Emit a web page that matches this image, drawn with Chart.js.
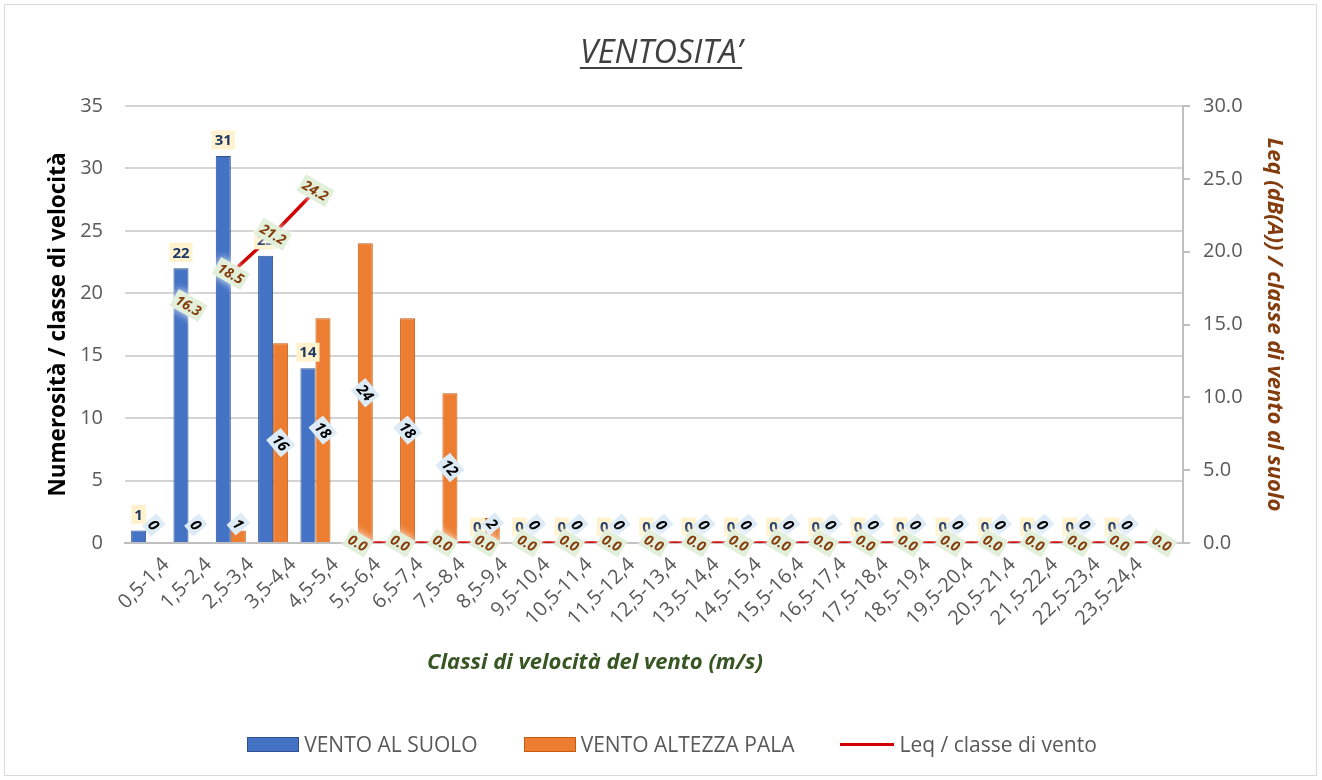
<!DOCTYPE html>
<html lang="it">
<head>
<meta charset="utf-8">
<title>VENTOSITA'</title>
<script src="https://cdn.jsdelivr.net/npm/chart.js@4.4.1/dist/chart.umd.min.js"></script>
<style>
  body { margin: 0; background: #fff; font-family: "Open Sans", sans-serif; }
  #wrap { position: relative; width: 1322px; height: 780px; }
  #frame { position: absolute; left: 4px; top: 4px; width: 1311px; height: 770px; border: 1px solid #d9d9d9; }
  #title {
    position: absolute; left: 0; top: 28px; width: 1322px; text-align: center;
    font-style: italic; font-size: 32.5px; color: #404040; text-decoration: underline;
    text-decoration-thickness: 2px; text-underline-offset: 4px;
  }
  #xtitle {
    position: absolute; left: 395px; top: 645px; width: 400px; text-align: center;
    font-style: italic; font-weight: bold; font-size: 22px; color: #375623;
  }
  #legend {
    position: absolute; left: 22px; top: 730px; width: 1300px;
    display: flex; justify-content: center; gap: 46px;
    font-size: 21px; color: #595959;
  }
  .item { display: flex; align-items: center; gap: 5px; }
  .box { width: 50px; height: 13px; border: 1px solid; }
  .line { width: 54px; height: 3px; }
</style>
</head>
<body>
<div id="wrap">
  <div id="frame"></div>
  <canvas id="chart" width="1322" height="780"></canvas>
  <div id="title">VENTOSITA’</div>
  <div id="xtitle">Classi di velocità del vento (m/s)</div>
  <div id="legend"></div>
</div>
<script>
// 1. Data
const classi = ['0,5-1,4', '1,5-2,4', '2,5-3,4', '3,5-4,4', '4,5-5,4', '5,5-6,4', '6,5-7,4', '7,5-8,4',
  '8,5-9,4', '9,5-10,4', '10,5-11,4', '11,5-12,4', '12,5-13,4', '13,5-14,4', '14,5-15,4', '15,5-16,4',
  '16,5-17,4', '17,5-18,4', '18,5-19,4', '19,5-20,4', '20,5-21,4', '21,5-22,4', '22,5-23,4', '23,5-24,4', ''];

const ventoSuolo = [1, 22, 31, 23, 14, null, null, null, 0, 0, 0, 0, 0, 0, 0, 0, 0, 0, 0, 0, 0, 0, 0, 0, null];
const ventoPala = [0, 0, 1, 16, 18, 24, 18, 12, 2, 0, 0, 0, 0, 0, 0, 0, 0, 0, 0, 0, 0, 0, 0, 0, null];
const leq = [null, 16.3, 18.5, 21.2, 24.2, 0, 0, 0, 0, 0, 0, 0, 0, 0, 0, 0, 0, 0, 0, 0, 0, 0, 0, 0, 0];
// segments of the Leq line that are missing in the picture (index of the first point)
const leqGaps = [1, 4, 8, 11];

const leftTicks = [0, 5, 10, 15, 20, 25, 30, 35];
const rightTicks = [0, 5, 10, 15, 20, 25, 30];

const BLUE = '#4472C4';
const ORANGE = '#ED7D31';
const RED = '#D00000';
const FONT = '"Open Sans", sans-serif';

// 2. Helper: draw one data label box (optionally rotated)
function drawLabel(ctx, text, x, y, deg, opts) {
  ctx.save();
  ctx.font = opts.font;
  const w = ctx.measureText(text).width + 6;
  const h = opts.size + 4;
  ctx.translate(x, y);
  ctx.rotate(deg * Math.PI / 180);
  if (opts.glow) {
    ctx.shadowColor = 'rgba(255,255,255,0.9)';
    ctx.shadowBlur = 8;
  }
  ctx.fillStyle = opts.bg;
  ctx.fillRect(-w / 2, -h / 2, w, h);
  ctx.shadowBlur = 0;
  ctx.fillStyle = opts.color;
  ctx.textAlign = 'center';
  ctx.textBaseline = 'middle';
  ctx.fillText(text, 0, 1);
  ctx.restore();
}

// 3. Plugin: data labels like the Excel ones
const labelPlugin = {
  id: 'excelLabels',
  afterDatasetsDraw(chart) {
    const ctx = chart.ctx;
    // blue bars: horizontal, above the bar
    chart.getDatasetMeta(1).data.forEach((el, i) => {
      const v = ventoSuolo[i];
      if (v === null) return;
      drawLabel(ctx, String(v), el.x, el.y - 16, 0,
        { font: 'bold 15px ' + FONT, size: 15, color: '#1F3864', bg: '#FFF2CC' });
    });
    // orange bars: rotated, centred in the bar
    chart.getDatasetMeta(2).data.forEach((el, i) => {
      const v = ventoPala[i];
      if (v === null) return;
      const y = Math.min((el.y + el.base) / 2, el.base - 18);
      drawLabel(ctx, String(v), el.x, y, 50,
        { font: 'italic bold 15px ' + FONT, size: 15, color: '#000', bg: '#DDEBF7' });
    });
    // Leq line
    chart.getDatasetMeta(0).data.forEach((el, i) => {
      const v = leq[i];
      if (v === null) return;
      drawLabel(ctx, v.toFixed(1), el.x, el.y, 30,
        { font: 'italic bold 14px ' + FONT, size: 15, color: '#843C0C', bg: '#E2EFDA', glow: true });
    });
  }
};

// 4. Chart
const chart = new Chart(document.getElementById('chart'), {
  data: {
    labels: classi,
    datasets: [
      {
        type: 'line',
        label: 'Leq / classe di vento',
        data: leq,
        yAxisID: 'y1',
        borderColor: RED,
        backgroundColor: RED,
        borderWidth: 3.5,
        pointRadius: 0,
        order: 0,
        segment: {
          borderColor: c => leqGaps.includes(c.p0DataIndex) ? 'transparent' : RED
        }
      },
      {
        type: 'bar',
        label: 'VENTO AL SUOLO',
        data: ventoSuolo,
        yAxisID: 'y',
        backgroundColor: BLUE,
        borderColor: '#2F528F',
        borderWidth: 1,
        barPercentage: 1,
        categoryPercentage: 0.71,
        order: 1
      },
      {
        type: 'bar',
        label: 'VENTO ALTEZZA PALA',
        data: ventoPala,
        yAxisID: 'y',
        backgroundColor: ORANGE,
        borderColor: '#C55A11',
        borderWidth: 1,
        barPercentage: 1,
        categoryPercentage: 0.71,
        order: 1
      }
    ]
  },
  options: {
    responsive: false,
    animation: false,
    layout: { padding: { top: 106, bottom: 100, left: 0, right: 0 } },
    plugins: {
      legend: { display: false },
      title: { display: false },
      tooltip: { enabled: false }
    },
    scales: {
      x: {
        grid: { display: false },
        border: { display: true, color: '#bfbfbf', width: 2 },
        ticks: {
          color: '#595959', font: { family: FONT, size: 20 },
          maxRotation: 45, minRotation: 45, autoSkip: false, padding: 2, labelOffset: 20
        },
        afterFit: s => { s.height = 137; }
      },
      y: {
        position: 'left',
        min: 0, max: 35,
        afterBuildTicks: s => { s.ticks = leftTicks.map(v => ({ value: v })); },
        grid: { color: '#d4d4d4', lineWidth: 2, drawTicks: false },
        border: { display: false },
        ticks: { color: '#595959', font: { family: FONT, size: 20 }, padding: 22 },
        title: {
          display: true, text: 'Numerosità / classe di velocità', color: '#000',
          font: { family: FONT, size: 22.5, weight: 'bold' },
          padding: { top: 45, bottom: 0 }
        },
        afterFit: s => { s.width = 125; }
      },
      y1: {
        position: 'right',
        min: 0, max: 30,
        afterBuildTicks: s => { s.ticks = rightTicks.map(v => ({ value: v })); },
        grid: { drawOnChartArea: false, color: '#bfbfbf', lineWidth: 2, tickLength: 7 },
        border: { display: true, color: '#bfbfbf', width: 2 },
        ticks: {
          color: '#595959', font: { family: FONT, size: 20 }, padding: 13,
          callback: v => v.toFixed(1)
        },
        title: {
          display: true, text: 'Leq (dB(A)) / classe di vento al suolo', color: '#843C0C',
          font: { family: FONT, size: 22, style: 'italic', weight: 'bold' },
          padding: { top: 35, bottom: 0 }
        },
        afterFit: s => { s.width = 139; }
      }
    }
  },
  plugins: [labelPlugin]
});

// 5. Legend built from the datasets
const legendEl = document.getElementById('legend');
[chart.data.datasets[1], chart.data.datasets[2], chart.data.datasets[0]].forEach(ds => {
  const item = document.createElement('div');
  item.className = 'item';
  const mark = ds.type === 'line'
    ? `<span class="line" style="background:${ds.borderColor}"></span>`
    : `<span class="box" style="background:${ds.backgroundColor};border-color:${ds.borderColor}"></span>`;
  item.innerHTML = `${mark}<span>${ds.label}</span>`;
  legendEl.appendChild(item);
});
</script>
</body>
</html>
